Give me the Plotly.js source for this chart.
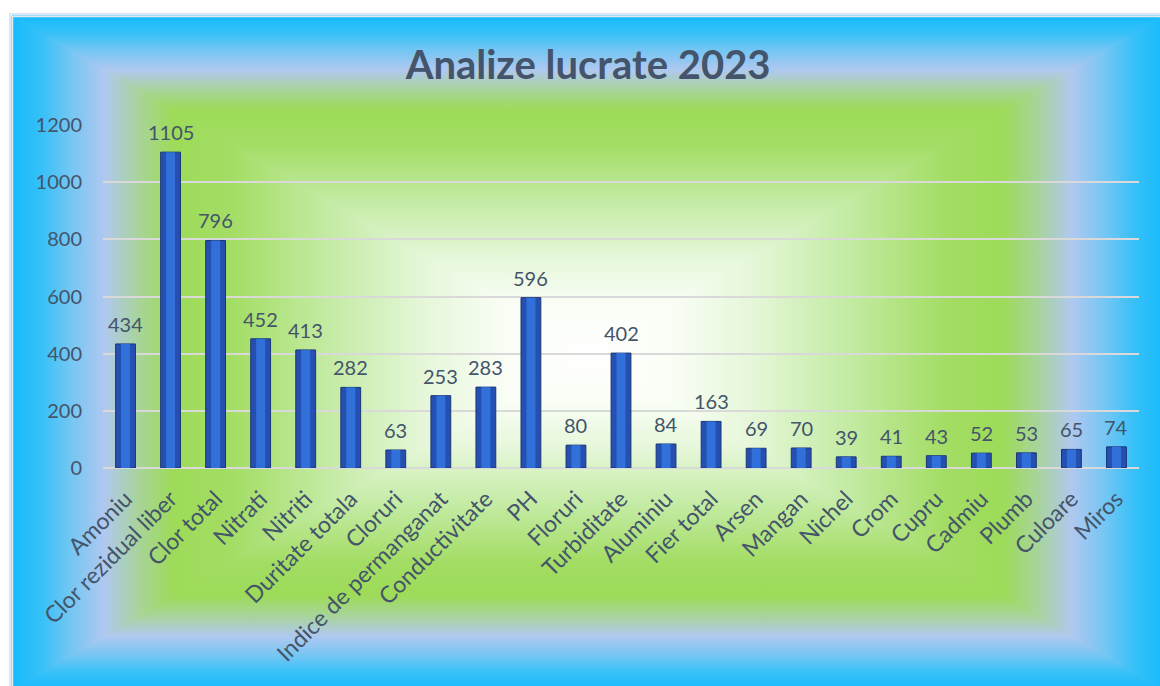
<!DOCTYPE html>
<html>
<head>
<meta charset="utf-8">
<script src="https://cdn.plot.ly/plotly-3.0.1.min.js"></script>
<style>
  html, body { margin: 0; padding: 0; background: #ffffff; }
  #wrap { position: relative; width: 1160px; height: 686px; overflow: hidden; background: #ffffff; }
  #bg { position: absolute; left: 0; top: 0; }
  #chart { position: absolute; left: 0; top: 0; width: 1160px; height: 686px; }
</style>
</head>
<body>
<div id="wrap">
  <svg id="bg" width="1160" height="686" xmlns="http://www.w3.org/2000/svg"></svg>
  <div id="chart"></div>
</div>
<script>
// ---- data ----
const categories = ["Amoniu", "Clor rezidual liber", "Clor total", "Nitrati", "Nitriti",
  "Duritate totala", "Cloruri", "Indice de permanganat", "Conductivitate", "PH",
  "Floruri", "Turbiditate", "Aluminiu", "Fier total", "Arsen", "Mangan", "Nichel",
  "Crom", "Cupru", "Cadmiu", "Plumb", "Culoare", "Miros"];
const values = [434, 1105, 796, 452, 413, 282, 63, 253, 283, 596, 80, 402, 84, 163,
  69, 70, 39, 41, 43, 52, 53, 65, 74];
const yTicks = [0, 200, 400, 600, 800, 1000, 1200];
const chartTitle = "Analize lucrate 2023";

// ---- background: rectangular path gradient (decoration) ----
(function () {
  const svg = document.getElementById('bg');
  const NS = 'http://www.w3.org/2000/svg';
  const x0 = 12, y0 = 16, x1 = 1164, y1 = 690;
  const cx = (x0 + x1) / 2, cy = (y0 + y1) / 2;
  const stops = [
    [0.00, '#16BBFD'], [0.05, '#35C0F8'], [0.10, '#72C6F3'], [0.16, '#B0C8F0'],
    [0.22, '#A8D49A'], [0.28, '#9DDB58'], [0.38, '#A3DD64'], [0.55, '#C4EBA4'],
    [0.72, '#E6F7DA'], [0.86, '#FAFEF6'], [1.00, '#FFFFFF']
  ];
  const defs = document.createElementNS(NS, 'defs');
  svg.appendChild(defs);
  const parts = [
    { id: 'gT', pts: [[x0, y0], [x1, y0], [cx, cy]], g: [cx, y0, cx, cy] },
    { id: 'gB', pts: [[x0, y1], [x1, y1], [cx, cy]], g: [cx, y1, cx, cy] },
    { id: 'gL', pts: [[x0, y0], [x0, y1], [cx, cy]], g: [x0, cy, cx, cy] },
    { id: 'gR', pts: [[x1, y0], [x1, y1], [cx, cy]], g: [x1, cy, cx, cy] }
  ];
  parts.forEach(p => {
    const lg = document.createElementNS(NS, 'linearGradient');
    lg.setAttribute('id', p.id);
    lg.setAttribute('gradientUnits', 'userSpaceOnUse');
    lg.setAttribute('x1', p.g[0]); lg.setAttribute('y1', p.g[1]);
    lg.setAttribute('x2', p.g[2]); lg.setAttribute('y2', p.g[3]);
    stops.forEach(s => {
      const st = document.createElementNS(NS, 'stop');
      st.setAttribute('offset', s[0]);
      st.setAttribute('stop-color', s[1]);
      lg.appendChild(st);
    });
    defs.appendChild(lg);
  });
  parts.forEach(p => {
    const poly = document.createElementNS(NS, 'polygon');
    poly.setAttribute('points', p.pts.map(q => q.join(',')).join(' '));
    poly.setAttribute('fill', 'url(#' + p.id + ')');
    poly.setAttribute('stroke', 'url(#' + p.id + ')');
    poly.setAttribute('stroke-width', '1');
    svg.appendChild(poly);
  });
  const glow = document.createElementNS(NS, 'rect');
  glow.setAttribute('x', x0 - 2); glow.setAttribute('y', y0 - 2);
  glow.setAttribute('width', x1 - x0 + 4); glow.setAttribute('height', y1 - y0 + 4);
  glow.setAttribute('fill', 'none');
  glow.setAttribute('stroke', '#DCE6F4');
  glow.setAttribute('stroke-width', '2');
  svg.appendChild(glow);
  const border = document.createElementNS(NS, 'rect');
  border.setAttribute('x', x0 + 0.5); border.setAttribute('y', y0 + 0.5);
  border.setAttribute('width', x1 - x0); border.setAttribute('height', y1 - y0);
  border.setAttribute('fill', 'none');
  border.setAttribute('stroke', '#E3E8EE');
  border.setAttribute('stroke-width', '1.5');
  svg.appendChild(border);
})();

// ---- chart ----
const textColor = '#44546A';
const fontFamily = 'Lato, Calibri, "Open Sans", sans-serif';

const traceMain = {
  type: 'bar',
  x: categories,
  y: values,
  width: categories.map(() => 0.44),
  marker: { color: '#2550B2', line: { color: '#193673', width: 1 } },
  hoverinfo: 'x+y'
};
const traceShine = {
  type: 'bar',
  x: categories,
  y: values,
  width: categories.map(() => 0.2),
  marker: { color: '#3070D8', line: { width: 0 } },
  hoverinfo: 'skip'
};

const annotations = categories.map((c, i) => ({
  x: c, y: values[i], xref: 'x', yref: 'y',
  text: String(values[i]),
  showarrow: false, yanchor: 'bottom', yshift: 6,
  font: { family: fontFamily, size: 20, color: textColor }
}));

const layout = {
  width: 1160, height: 686,
  paper_bgcolor: 'rgba(0,0,0,0)',
  plot_bgcolor: 'rgba(0,0,0,0)',
  margin: { l: 102.5, r: 20.5, t: 125, b: 218, pad: 0 },
  barmode: 'overlay',
  showlegend: false,
  title: {
    text: '<b>' + chartTitle + '</b>',
    x: 0.507, xanchor: 'center', y: 0.905, yanchor: 'middle',
    font: { family: fontFamily, size: 40, color: textColor }
  },
  xaxis: {
    type: 'category',
    tickangle: -45,
    ticks: '',
    showline: false,
    showgrid: false,
    ticklabelstandoff: 12,
    tickfont: { family: fontFamily, size: 23, color: textColor }
  },
  yaxis: {
    range: [0, 1200],
    tickvals: yTicks,
    ticktext: yTicks.map(String),
    showgrid: true,
    gridcolor: '#D9D9D9',
    gridwidth: 2,
    zeroline: true,
    zerolinecolor: '#D9D9D9',
    zerolinewidth: 2,
    showline: false,
    ticks: '',
    ticklabelstandoff: 20,
    tickfont: { family: fontFamily, size: 20, color: textColor }
  },
  annotations: annotations
};

Plotly.newPlot('chart', [traceMain, traceShine], layout, { displayModeBar: false, staticPlot: true });
</script>
</body>
</html>
